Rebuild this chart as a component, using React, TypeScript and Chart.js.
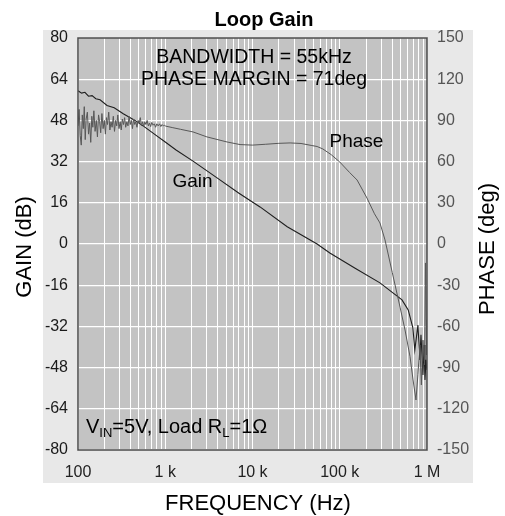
import React, { useEffect, useRef } from "react";
import { Chart, registerables } from "chart.js";

Chart.register(...registerables);

// ---- data ----
const gainFreq = [
  100, 110, 120, 132, 145, 160, 179, 215, 260, 330, 450, 600, 800, 1000, 1330, 2080, 4000,
  7000, 12200, 25000, 55000, 77000, 150000, 289000, 400000, 517000, 609000, 689000, 725000,
  787000, 828000, 853000, 899000, 924000, 948000, 975000, 1000000,
];
const gainDb = [
  59.5, 58.6, 58.9, 57.4, 57.6, 56.4, 56.0, 53.8, 52.9, 50.6, 48.0, 45.1, 42.0, 39.6, 36.5,
  32.2, 25.5, 19.7, 14.4, 6.7, 0.0, -3.5, -9.4, -15.1, -18.8, -21.7, -25.6, -32.6, -41.2,
  -31.5, -45.0, -35.3, -50.9, -39.2, -52.8, -45.0, -48.9,
];

const phaseFreq = [
  100, 103, 106, 109, 112, 115, 118, 121, 124, 128,
  132, 136, 140, 144, 148, 152, 157, 162, 167, 172,
  177, 182, 188, 194, 200, 206, 212, 218, 225, 232,
  239, 246, 254, 262, 270, 278, 286, 295, 304, 313,
  322, 332, 342, 352, 363, 374, 385, 397, 409, 421,
  434, 447, 460, 474, 488, 503, 518, 534, 550, 566,
  583, 600, 620, 640, 660, 680, 700, 725, 750, 775,
  800, 830, 860, 890, 920, 950, 980, 1000,
  1200, 1500, 2080, 3000, 5100, 7200, 10000, 14000, 20000, 27000,
  36000, 47000, 55000, 64000, 80000, 100000, 130000, 158000, 205000, 250000,
  289000, 330000, 400000, 491000, 560000, 639000, 692000, 748000, 787000, 828000,
  862000, 899000, 937000, 960000, 986000, 1000000,
];
const phaseDeg = [
  86, 98, 79, 72, 94, 84, 100, 76, 91, 96,
  80, 88, 74, 93, 85, 97, 82, 90, 78, 94,
  89, 81, 95, 84, 90, 80, 92, 87, 96, 83,
  89, 85, 93, 82, 90, 86, 94, 84, 89, 83,
  91, 87, 92, 85, 89, 86, 93, 87, 90, 84,
  91, 87, 89, 85, 90, 88, 92, 86, 89, 85.5,
  89, 87, 90, 86, 88, 85.5, 88.5, 86.5, 87.5, 85,
  87.5, 86, 87.5, 85.5, 87, 86, 86.5, 85.9,
  84.8, 83.5, 81.6, 78, 74.3, 72.4, 72, 72.6, 73.3, 73.6,
  73.2, 71.8, 71, 69.2, 65, 59.7, 52, 46.6, 33.5, 22,
  15.3, 3, -20.8, -46, -62.6, -82, -99, -113.6, -95, -73.5,
  -102.6, -70, -88, -13.8, -80.8, -55,
];

const xTickValues = [100, 1000, 10000, 100000, 1000000];
const xTickLabels = ["100", "1 k", "10 k", "100 k", "1 M"];
const gainRange = [-80, 80];
const gainStep = 16;
const phaseRange = [-150, 150];
const phaseStep = 30;

const titleText = "Loop Gain";
const xTitle = "FREQUENCY (Hz)";
const yTitle = "GAIN (dB)";
const y1Title = "PHASE (deg)";
const noteLine1 = "BANDWIDTH = 55kHz";
const noteLine2 = "PHASE MARGIN = 71deg";
const gainLabel = "Gain";
const phaseLabel = "Phase";

const FONT = '"Liberation Sans", Arial, Helvetica, sans-serif';

export default function App() {
  const ref = useRef<HTMLCanvasElement>(null);

  useEffect(() => {
    document.body.style.margin = "0";
    const canvas = ref.current;
    if (!canvas) return;

    const gridValues: number[] = [];
    for (let d = 100; d < 1000000; d *= 10) {
      for (let m = 1; m < 10; m++) gridValues.push(d * m);
    }
    gridValues.push(1000000);

    const decor = {
      id: "decor",
      beforeDraw(chart: any) {
        const { ctx, chartArea: a } = chart;
        ctx.save();
        ctx.fillStyle = "#ffffff";
        ctx.fillRect(0, 0, chart.width, chart.height);
        ctx.fillStyle = "#e8e8e8";
        ctx.fillRect(a.left - 35, a.top - 8, a.right - a.left + 81, a.bottom - a.top + 41);
        ctx.fillStyle = "#c3c3c3";
        ctx.fillRect(a.left, a.top, a.right - a.left, a.bottom - a.top);
        ctx.restore();
      },
      afterDraw(chart: any) {
        const { ctx, chartArea: a } = chart;
        ctx.save();
        ctx.strokeStyle = "#4a4a4a";
        ctx.lineWidth = 1.5;
        ctx.strokeRect(a.left, a.top, a.right - a.left, a.bottom - a.top);

        ctx.fillStyle = "#000";
        ctx.textBaseline = "alphabetic";
        ctx.textAlign = "center";
        ctx.font = `bold 20px ${FONT}`;
        ctx.fillText(titleText, 264, 26);

        ctx.font = `19.5px ${FONT}`;
        ctx.fillText(noteLine1, 254, 63);
        ctx.fillText(noteLine2, 254, 85);
        ctx.font = `19px ${FONT}`;
        ctx.fillText(gainLabel, 192.5, 187);
        ctx.fillText(phaseLabel, 356.5, 147);

        // V_IN=5V, Load R_L=1Ω
        ctx.textAlign = "left";
        const big = `20px ${FONT}`;
        const small = `13px ${FONT}`;
        let x = 86;
        const base = 433;
        const parts: [string, boolean][] = [
          ["V", false], ["IN", true], ["=5V, Load R", false], ["L", true], ["=1Ω", false],
        ];
        for (const [t, sub] of parts) {
          ctx.font = sub ? small : big;
          ctx.fillText(t, x, sub ? base + 4 : base);
          x += ctx.measureText(t).width;
        }

        ctx.textAlign = "center";
        ctx.font = `22px ${FONT}`;
        ctx.fillText(xTitle, 258, 510);

        ctx.save();
        ctx.translate(31, 247);
        ctx.rotate(-Math.PI / 2);
        ctx.fillText(yTitle, 0, 0);
        ctx.restore();

        ctx.save();
        ctx.translate(494, 249);
        ctx.rotate(-Math.PI / 2);
        ctx.fillText(y1Title, 0, 0);
        ctx.restore();

        ctx.restore();
      },
    };

    const chart = new Chart(canvas, {
      type: "line",
      data: {
        datasets: [
          {
            label: "Phase",
            data: phaseFreq.map((f, i) => ({ x: f, y: phaseDeg[i] })),
            yAxisID: "y1",
            borderColor: "#585858",
            borderWidth: 1,
            pointRadius: 0,
            tension: 0,
          },
          {
            label: "Gain",
            data: gainFreq.map((f, i) => ({ x: f, y: gainDb[i] })),
            yAxisID: "y",
            borderColor: "#1e1e1e",
            borderWidth: 1.1,
            pointRadius: 0,
            tension: 0,
          },
        ],
      },
      options: {
        responsive: false,
        animation: false,
        layout: { padding: { top: 38, left: 0, right: 0, bottom: 0 } },
        plugins: { legend: { display: false }, title: { display: false }, tooltip: { enabled: false } },
        scales: {
          x: {
            type: "logarithmic",
            min: 100,
            max: 1000000,
            afterBuildTicks: (scale: any) => {
              scale.ticks = gridValues.map((v) => ({ value: v }));
            },
            afterFit: (scale: any) => {
              scale.height = 66;
            },
            ticks: {
              autoSkip: false,
              maxRotation: 0,
              padding: 13,
              color: "#222",
              font: { family: FONT, size: 16 },
              callback: (v: any) => {
                const i = xTickValues.indexOf(Number(v));
                return i >= 0 ? xTickLabels[i] : "";
              },
            },
            grid: { color: "#ffffff", lineWidth: 1, drawTicks: false },
            border: { display: false },
          },
          y: {
            position: "left",
            min: gainRange[0],
            max: gainRange[1],
            afterFit: (scale: any) => {
              scale.width = 78;
            },
            ticks: {
              stepSize: gainStep,
              padding: 10,
              color: "#1a1a1a",
              font: { family: FONT, size: 16 },
            },
            grid: { color: "#ffffff", lineWidth: 1.3, drawTicks: false },
            border: { display: false },
          },
          y1: {
            position: "right",
            min: phaseRange[0],
            max: phaseRange[1],
            afterFit: (scale: any) => {
              scale.width = 78;
            },
            ticks: {
              stepSize: phaseStep,
              padding: 10,
              color: "#555",
              font: { family: FONT, size: 16 },
            },
            grid: { display: false, drawTicks: false },
            border: { display: false },
          },
        },
      },
      plugins: [decor],
    } as any);

    return () => chart.destroy();
  }, []);

  return (
    <div style={{ position: "absolute", left: 0, top: 0, width: 505, height: 516 }}>
      <canvas ref={ref} width={505} height={516} style={{ width: 505, height: 516, display: "block" }} />
    </div>
  );
}
